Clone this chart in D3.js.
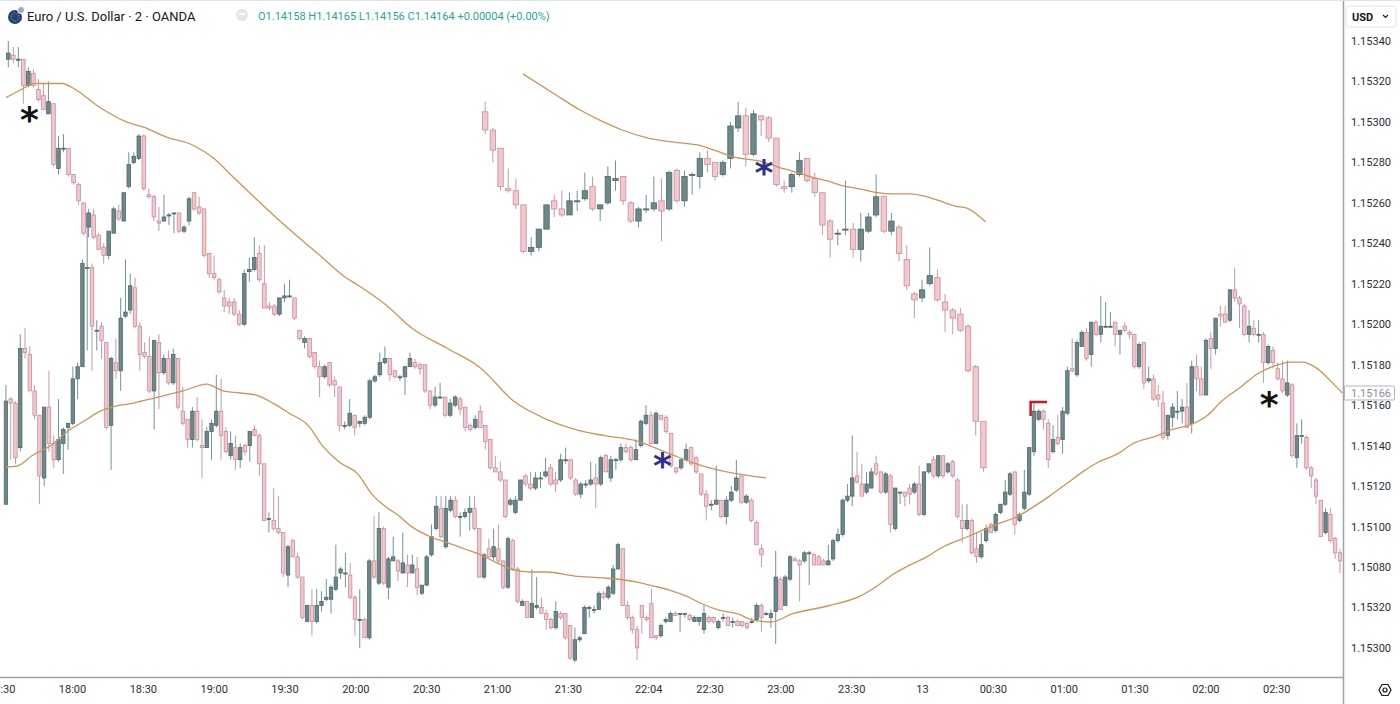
<!DOCTYPE html>
<html>
<head>
<meta charset="utf-8">
<script src="https://cdn.jsdelivr.net/npm/d3@7"></script>
<style>
  body { margin: 0; background: #fff; overflow: hidden; }
  svg { display: block; }
  text { font-family: Roboto, "Liberation Sans", sans-serif; }
</style>
</head>
<body>
<div class="chart"></div>
<script>
// candles are [open, high, low, close] in points above 1.15000
const base = 1.15;

const seriesA = [
  [331,340,327,334],[333,337,329,331],[331,337,327,331],[331,331,309,318],[318,327,317,325],[324,326,317,318],[316,321,310,311],[313,319,306,306],[304,320,304,310],[309,309,278,279],
  [277,293,274,287],[287,294,285,287],[287,287,273,274],[274,274,269,270],[269,270,259,261],[260,260,244,245],[248,257,243,255],[254,257,242,243],[244,245,237,237],[238,240,230,234],
  [234,246,232,246],[245,258,245,257],[256,259,251,252],[251,265,251,265],[268,285,267,279],[280,285,279,283],[282,294,281,293],[293,294,266,267],[264,267,262,263],[263,264,251,253],
  [251,258,246,250],[251,264,251,253],[254,255,249,254],[255,255,245,255],[255,255,245,246],[246,249,245,248],[251,263,249,262],[265,265,256,257],[258,263,254,255],[257,257,233,234],
  [235,235,223,225],[225,234,222,223],[222,223,215,216],[213,217,206,209],[211,213,205,209],[211,213,204,205],[205,207,199,200],[200,227,199,225],[226,233,221,227],[227,243,226,233],
  [235,239,221,222],[220,239,208,208],[209,211,207,208],[209,210,204,205],[205,213,204,213],[213,220,211,214],[214,222,213,214],[213,213,202,203],[197,197,192,193],[191,194,188,193],
  [193,193,183,184],[186,186,178,179],[179,182,164,174],[174,180,173,179],[181,181,169,170],[172,174,164,170],[169,169,147,150],[150,152,148,150],[150,163,149,156],[155,155,145,149],
  [151,152,149,152],[151,155,150,154],[154,173,153,172],[172,175,171,174],[175,186,174,181],[181,189,180,183],[183,183,172,175],[177,177,173,174],[174,175,172,174],[174,179,165,179],
  [179,186,179,183],[181,183,178,179],[180,181,175,178],[180,180,166,167],[167,167,158,160],[160,169,159,164],[164,171,163,164],[164,164,154,155],[155,163,154,161],[160,165,159,164],
  [163,164,155,158],[159,159,147,149],[150,151,147,148],[149,155,148,153],[157,160,149,149],[150,150,138,142],[143,143,128,129],[129,135,127,127],[127,132,122,123],[123,123,104,105],
  [111,114,110,113],[107,115,106,113],[113,123,113,123],[125,126,120,121],[121,127,118,119],[119,127,118,124],[124,127,119,124],[125,134,124,127],[129,131,120,121],[123,127,117,121],
  [123,136,122,133],[133,139,131,133],[133,133,123,124],[123,124,115,116],[116,122,114,121],[121,123,119,121],[121,132,120,123],[124,131,109,121],[121,135,120,134],[135,136,127,127],
  [124,135,122,133],[133,134,128,133],[133,141,132,139],[139,141,136,137],[139,140,132,133],[133,143,133,138],[140,153,139,152],[151,160,150,155],[155,157,141,141],[141,157,141,156],
  [155,155,153,153],[154,155,146,147],[146,146,129,130],[129,129,126,127],[129,133,128,133],[133,141,132,138],[139,139,130,131],[134,135,126,127],[126,126,115,116],[116,118,103,110],
  [111,113,108,111],[111,130,111,113],[113,113,104,105],[105,115,101,113],[113,120,112,117],[118,133,117,124],[125,125,111,112],[112,116,111,115],[113,114,102,103],[102,103,91,91],
  [89,91,80,86]
];

const seriesB = [
  [111,170,111,162],[163,164,133,161],[161,162,131,134],[139,195,137,188],[188,198,183,186],[185,189,167,167],[167,170,153,155],[155,155,111,125],[124,159,120,159],[159,177,137,141],
  [141,145,129,133],[133,163,132,143],[141,149,126,148],[149,151,138,151],[151,179,150,173],[173,181,163,179],[179,232,179,230],[228,255,187,228],[228,230,177,199],[197,202,187,197],
  [199,201,183,192],[191,191,148,149],[150,184,128,183],[181,193,173,177],[177,213,167,203],[204,232,203,206],[207,225,205,219],[218,223,198,199],[199,201,177,185],[186,191,183,184],
  [184,194,166,167],[167,192,148,192],[191,195,158,176],[176,185,175,183],[183,187,170,171],[171,188,170,185],[183,183,158,159],[157,169,150,151],[153,153,139,143],[143,159,139,157],
  [157,164,142,143],[140,153,124,139],[139,149,139,147],[147,153,133,151],[150,175,149,157],[157,173,133,145],[147,149,136,137],[135,147,133,141],[139,145,128,133],[133,141,129,139],
  [140,141,135,137],[140,147,132,147],[148,150,145,145],[145,146,125,131],[131,131,103,103],[104,107,97,104],[103,119,98,99],[99,115,96,97],[97,97,75,77],[76,91,70,90],
  [93,94,85,85],[85,87,74,75],[75,75,54,55],[53,61,53,61],[61,69,46,53],[53,69,52,61],[61,68,58,63],[64,74,63,65],[64,71,57,70],[69,91,68,75],
  [77,80,74,79],[77,87,70,77],[76,82,64,65],[65,66,46,54],[54,69,40,54],[54,55,45,45],[45,84,44,83],[83,105,74,75],[72,107,71,99],[99,100,71,72],
  [70,85,64,84],[83,95,83,85],[83,84,73,78],[77,97,77,82],[81,86,70,77],[77,86,77,81],[79,85,66,70],[67,71,66,71],[71,86,71,85],[86,101,85,95],
  [99,115,98,110],[109,115,94,95],[90,115,89,109],[108,115,107,113],[113,115,104,105],[105,107,95,105],[105,109,104,107],[107,115,98,109],[109,115,98,99],[99,99,75,75],
  [75,87,74,86],[89,94,84,85],[85,99,83,90],[89,101,82,83],[83,83,69,70],[70,95,69,94],[93,94,78,79],[79,80,62,63],[61,64,61,63],[63,63,55,55],
  [55,79,55,62],[60,75,59,61],[60,65,57,57],[57,59,49,54],[54,55,49,50],[50,63,49,58],[57,58,54,55],[57,57,44,45],[51,51,34,35],[34,50,33,44],
  [44,46,43,45],[47,61,47,60],[60,61,55,60],[59,61,57,59],[59,68,59,67],[67,68,64,65],[65,71,64,70],[67,81,66,79],[79,92,79,91],[89,89,61,61],
  [61,63,54,55],[55,56,47,49],[49,51,34,40],[61,61,47,55],[55,56,53,54],[62,69,45,45],[46,46,44,45],[46,52,45,51],[53,55,52,54],[53,58,53,57],
  [57,58,56,56],[57,57,48,57],[57,57,55,57],[56,57,53,54],[53,56,53,55],[53,55,51,55],[49,61,47,57],[55,56,52,53],[55,55,52,53],[50,54,49,53],
  [55,57,53,55],[55,56,51,51],[53,55,50,53],[53,54,51,51],[53,53,50,51],[52,53,49,50],[53,55,52,53],[54,62,53,61],[61,62,48,55],[57,58,56,57],
  [55,59,50,57],[58,88,42,75],[74,75,59,59],[61,76,61,75],[74,86,73,85],[84,85,83,83],[83,84,63,81],[83,88,82,87],[87,88,71,87],[86,87,81,81],
  [85,86,81,81],[83,84,81,81],[81,91,81,83],[84,94,83,93],[93,99,92,96],[96,114,95,113],[113,121,112,115],[115,145,110,124],[125,137,121,122],[121,131,115,115],
  [117,127,116,121],[119,129,119,127],[131,135,125,126],[127,127,116,117],[117,127,116,126],[125,126,97,101],[99,119,98,119],[117,117,111,117],[117,117,110,115],[119,121,111,116],
  [117,122,116,121],[121,130,105,106],[106,127,105,127],[127,131,126,131],[133,135,124,125],[125,135,124,135],[135,135,124,125],[127,132,126,131],[132,133,124,125],[123,124,104,105],
  [103,111,92,99],[99,111,98,103],[103,104,86,87],[89,97,82,85],[85,97,84,91],[93,101,92,99],[101,102,97,97],[98,107,97,106],[107,111,106,111],[111,123,110,117],
  [116,127,115,126],[127,127,96,101],[103,107,102,106],[109,128,108,117],[116,139,115,139],[137,162,135,157],[153,158,152,157],[157,158,148,153],[151,153,129,133],[137,150,136,143],
  [144,155,140,141],[143,159,136,157],[156,179,155,177],[178,193,176,177],[175,192,174,191],[189,197,189,196],[196,198,182,183],[185,201,179,201],[201,202,194,195],[195,214,191,199],
  [199,211,198,199],[199,206,198,199],[201,201,189,195],[195,197,185,197],[199,201,196,197],[196,197,193,195],[195,195,178,179],[179,191,178,190],[191,191,168,171],[172,179,171,173],
  [173,175,162,163],[165,170,159,163],[161,167,143,144],[145,155,143,155],[154,161,149,159],[157,167,153,157],[157,163,151,159],[159,171,149,149],[151,182,146,179],[179,185,167,173],
  [173,179,165,165],[165,193,165,192],[193,196,178,188],[188,203,185,203],[205,209,199,204],[205,209,201,201],[202,217,201,217],[217,228,211,213],[213,214,198,210],[209,210,194,195],
  [195,207,191,199],[198,202,194,195],[195,202,191,195],[195,196,171,181],[181,190,180,189],[187,189,178,181],[178,181,172,173],[173,182,166,167],[165,182,164,171],[170,171,134,135],
  [134,151,129,145],[145,153,141,145],[144,145,128,129],[129,130,119,125],[123,124,111,115],[113,113,95,95],[97,109,96,107],[106,109,92,93],[94,95,84,87],[87,89,77,83]
];

const seriesC = [
  [305,310,294,296],[296,297,280,286],[287,287,266,268],[267,277,265,266],[266,272,257,259],[259,259,235,236],[236,243,234,238],[238,247,236,247],[247,259,247,259],[261,264,253,257],
  [257,266,253,254],[254,265,254,261],[261,266,256,261],[262,275,261,266],[268,273,256,257],[257,259,251,259],[260,278,259,273],[271,281,266,272],[273,273,259,261],[260,261,250,251],
  [251,258,248,257],[257,264,255,257],[257,273,256,260],[261,272,241,256],[257,276,256,275],[276,277,260,261],[261,276,258,273],[274,275,264,274],[273,285,267,282],[282,286,275,279],
  [280,280,271,273],[274,281,273,280],[282,300,277,298],[297,310,295,303],[303,307,278,284],[284,306,283,304],[303,303,293,301],[302,303,290,292],[292,292,268,269],[268,271,265,267],
  [268,275,265,274],[274,285,273,281],[282,282,270,271],[272,275,263,265],[265,265,244,249],[251,252,233,242],[245,247,239,245],[247,271,244,247],[247,250,233,237],[237,255,231,247],
  [246,255,245,253],[254,274,253,263],[263,264,245,246],[246,255,244,251],[248,249,231,235],[232,239,217,219],[215,216,203,212],[213,222,211,217],[220,238,219,224],[223,227,211,212],
  [211,215,196,207],[207,208,195,203],[205,208,196,197],[199,200,176,177],[179,180,145,152],[152,152,127,129]
];

// time of first and last candle of each series
const spanA = ['17:33', '22:52'];
const spanB = ['17:32', '02:57'];
const spanC = ['20:55', '00:26'];

// moving average lines: [time, points above 1.15000]
const maA = [['17:32',312],['17:40',317],['17:43',319],['17:56',319],['18:00',317],['18:12',307],['18:23',300],['18:30',297.5],['18:40',292.5],['18:51',288.6],
  ['19:00',282],['19:08',273],['19:17',263],['19:29',250],['19:44',235],['19:56',223],['20:01',219.4],['20:13',209.5],['20:24',198],['20:39',188],
  ['20:53',178.4],['21:07',162],['21:21',153],['21:33',148],['21:45',145],['21:59',142.3],['22:13',136],['22:27',130],['22:42',126],['22:54',124]];
const maB = [['17:32',129.4],['17:37',130],['17:43',135],['17:51',140],['17:58',147],['18:05',152],['18:12',157],['18:19',159.6],['18:26',161],['18:33',163],
  ['18:40',165],['18:47',167],['18:57',170.4],['19:04',167],['19:11',166],['19:18',165],['19:25',161],['19:32',156],['19:40',150],['19:46',140],
  ['19:53',132],['20:01',126],['20:07',116],['20:13',109.6],['20:18',105.7],['20:24',99.8],['20:32',94.8],['20:39',92],['20:46',89],['20:53',86],
  ['21:00',82],['21:07',78.5],['21:14',77.5],['21:21',77.5],['21:33',75.5],['21:45',74.6],['21:59',72.6],['22:06',70.6],['22:13',68.6],['22:20',65.7],
  ['22:27',61.7],['22:34',58.7],['22:42',56.8],['22:48',53.8],['22:56',52.8],['23:05',56.8],['23:20',60.7],['23:34',65.7],['23:41',70.6],['23:48',76.5],
  ['23:55',81],['00:02',85],['00:09',90],['00:19',94.8],['00:26',98.3],['00:33',101.7],['00:40',104.7],['00:47',109.6],['00:54',115],['01:01',121],
  ['01:08',127],['01:15',132],['01:23',136],['01:29',140.8],['01:40',145],['01:46',148],['01:53',150],['02:01',155],['02:07',162],['02:15',169],
  ['02:22',175.4],['02:29',179.3],['02:36',181.3],['02:41',181.3],['02:47',178.4],['02:53',172],['02:58',166]];
const maC = [['21:11',323.7],['21:25',313.3],['21:35',306],['21:45',300],['21:53',296],['22:04',292],['22:15',290],['22:25',288.6],['22:32',286],['22:40',282.7],
  ['22:51',280.7],['22:59',277.7],['23:05',275.7],['23:13',272.8],['23:20',270.8],['23:27',268.3],['23:34',266.8],['23:41',265],['23:48',264.4],['23:55',264.4],
  ['00:02',263],['00:09',260.4],['00:14',258.4],['00:19',257.4],['00:27',250.5]];

const timeTicks = ['17:30','18:00','18:30','19:00','19:30','20:00','20:30','21:00','21:30','22:04','22:30','23:00','23:30','00:00','00:30','01:00','01:30','02:00','02:30'];
const timeLabels = ['17:30','18:00','18:30','19:00','19:30','20:00','20:30','21:00','21:30','22:04','22:30','23:00','23:30','13','00:30','01:00','01:30','02:00','02:30'];
const priceTicks = [1.1534,1.1532,1.1530,1.1528,1.1526,1.1524,1.1522,1.1520,1.1518,1.1516,1.1514,1.1512,1.1510,1.1508,1.1506,1.1504];
const priceLabels = ['1.15340','1.15320','1.15300','1.15280','1.15260','1.15240','1.15220','1.15200','1.15180','1.15160','1.15140','1.15120','1.15100','1.15080','1.15320','1.15300'];

// asterisk marks and the red bracket
const marks = [
  {t: '17:42', v: 306, color: '#111'},
  {t: '02:27', v: 165, color: '#111'},
  {t: '22:10', v: 135, color: '#2e3192'},
  {t: '22:53', v: 280, color: '#2e3192'}
];
const bracket = {t0: '00:46', t1: '00:53', top: 161.6, bottom: 154.6};
const lastPrice = 166;

const title = 'Euro / U.S. Dollar \u00b7 2 \u00b7 OANDA';
const ohlc = 'O1.14158 H1.14165 L1.14156 C1.14164 +0.00004 (+0.00%)';

const width = 1400, height = 704;
const plotRight = 1343, axisY = 677;

const toPrice = v => base + v / 1e5;
function tp(s) {
  const [h, m] = s.split(':').map(Number);
  return new Date(2021, 6, h < 12 ? 13 : 12, h, m);
}

const x = d3.scaleTime().domain([tp('17:30'), tp('03:00')]).range([1.2, 1347]);
const y = d3.scaleLinear().domain([1.1534, 1.1503]).range([41, 668.1]);

const svg = d3.select('.chart').append('svg')
  .attr('width', width)
  .attr('height', height);

svg.append('defs').append('clipPath').attr('id', 'plotclip')
  .append('rect').attr('x', 0).attr('y', 0).attr('width', plotRight).attr('height', axisY);

const plot = svg.append('g').attr('clip-path', 'url(#plotclip)');

const upFill = '#6b898a', upStroke = '#506869', upWick = '#6f9596';
const downFill = '#f4c6cd', downStroke = '#c98e98', downWick = '#c29ba2';

function drawCandles(data, span, bodyW) {
  const xi = d3.scaleLinear()
    .domain([0, data.length - 1])
    .range([x(tp(span[0])), x(tp(span[1]))]);
  const g = plot.append('g');
  g.selectAll('line').data(data).join('line')
    .attr('x1', (d, i) => xi(i))
    .attr('x2', (d, i) => xi(i))
    .attr('y1', d => y(toPrice(d[1])))
    .attr('y2', d => y(toPrice(d[2])))
    .attr('stroke', d => d[3] >= d[0] ? upWick : downWick)
    .attr('stroke-width', 1);
  g.selectAll('rect').data(data).join('rect')
    .attr('x', (d, i) => xi(i) - bodyW / 2)
    .attr('width', bodyW)
    .attr('y', d => y(toPrice(Math.max(d[0], d[3]))))
    .attr('height', d => Math.max(1, Math.abs(y(toPrice(d[0])) - y(toPrice(d[3])))))
    .attr('fill', d => d[3] >= d[0] ? upFill : downFill)
    .attr('stroke', d => d[3] >= d[0] ? upStroke : downStroke)
    .attr('stroke-width', 0.8);
}

drawCandles(seriesB, spanB, 3.4);
drawCandles(seriesA, spanA, 3.6);
drawCandles(seriesC, spanC, 5.4);

const maLine = d3.line()
  .x(d => x(tp(d[0])))
  .y(d => y(toPrice(d[1])))
  .curve(d3.curveMonotoneX);

[maA, maB, maC].forEach(ma => {
  plot.append('path')
    .datum(ma)
    .attr('d', maLine)
    .attr('fill', 'none')
    .attr('stroke', '#c99558')
    .attr('stroke-width', 1.3);
});

// annotations
plot.selectAll('.mark').data(marks).join('text')
  .attr('class', 'mark')
  .attr('x', d => x(tp(d.t)))
  .attr('y', d => y(toPrice(d.v)))
  .attr('dy', '0.62em')
  .attr('text-anchor', 'middle')
  .style('font-family', '"DejaVu Sans", sans-serif')
  .style('font-weight', 'bold')
  .style('font-size', '36px')
  .attr('fill', d => d.color)
  .text('*');

plot.append('path')
  .attr('d', `M${x(tp(bracket.t0))},${y(toPrice(bracket.bottom))}V${y(toPrice(bracket.top))}H${x(tp(bracket.t1))}`)
  .attr('fill', 'none')
  .attr('stroke', '#d0161c')
  .attr('stroke-width', 2.5);

// frame lines
svg.append('line').attr('x1', 0).attr('x2', plotRight).attr('y1', axisY + 0.5).attr('y2', axisY + 0.5)
  .attr('stroke', '#9ea1a8').attr('stroke-width', 1.5);
svg.append('line').attr('x1', plotRight + 0.5).attr('x2', plotRight + 0.5).attr('y1', 0).attr('y2', height)
  .attr('stroke', '#9ea1a8').attr('stroke-width', 1.5);
svg.append('line').attr('x1', 0).attr('x2', width).attr('y1', 0.5).attr('y2', 0.5)
  .attr('stroke', '#e0e3eb');

// price axis
const yAxis = d3.axisRight(y)
  .tickValues(priceTicks)
  .tickFormat((d, i) => priceLabels[i])
  .tickSize(0)
  .tickPadding(8);
const gy = svg.append('g').attr('transform', `translate(${plotRight},0)`).call(yAxis);
gy.select('.domain').remove();
gy.selectAll('text').style('font-size', '11px').attr('fill', '#2a2e39');

// time axis
const xAxis = d3.axisBottom(x)
  .tickValues(timeTicks.map(tp))
  .tickFormat((d, i) => timeLabels[i])
  .tickSize(0)
  .tickPadding(8);
const gx = svg.append('g').attr('transform', `translate(0,${axisY})`).call(xAxis);
gx.select('.domain').remove();
gx.selectAll('text').style('font-size', '11px').attr('fill', '#2a2e39');

// last price tag
const tagY = y(toPrice(lastPrice));
svg.append('rect').attr('x', plotRight + 1.5).attr('y', tagY - 7).attr('width', 50).attr('height', 14)
  .attr('fill', '#fff').attr('fill-opacity', 0.85).attr('stroke', '#b2b5be').attr('rx', 1);
svg.append('text').attr('x', plotRight + 8).attr('y', tagY).attr('dy', '0.35em')
  .style('font-size', '11px').attr('fill', '#8a8d96').text(toPrice(lastPrice).toFixed(5));

// currency box
svg.append('rect').attr('x', 1346).attr('y', 6).attr('width', 50).attr('height', 21).attr('rx', 3)
  .attr('fill', '#fff').attr('stroke', '#e0e3eb');
svg.append('text').attr('x', 1352).attr('y', 21).style('font-size', '11px').style('font-weight', 'bold')
  .attr('fill', '#131722').text('USD');
svg.append('path').attr('d', 'M1383,15 l2.5,2.5 l2.5,-2.5').attr('fill', 'none').attr('stroke', '#131722').attr('stroke-width', 1.1);

// settings icon bottom right
svg.append('path').attr('d', 'M1379,690 l3,-5.5 h6 l3,5.5 l-3,5.5 h-6 z').attr('fill', 'none').attr('stroke', '#131722').attr('stroke-width', 1.2);
svg.append('circle').attr('cx', 1385).attr('cy', 690).attr('r', 2).attr('fill', 'none').attr('stroke', '#131722').attr('stroke-width', 1.2);

// header
const head = svg.append('g');
head.append('circle').attr('cx', 15).attr('cy', 17).attr('r', 7).attr('fill', '#22437a');
head.append('circle').attr('cx', 15).attr('cy', 17).attr('r', 4).attr('fill', 'none').attr('stroke', '#e8c547').attr('stroke-width', 0.8).attr('stroke-dasharray', '1,1.5');
head.append('circle').attr('cx', 21).attr('cy', 10).attr('r', 3.5).attr('fill', '#9aa8bb').attr('stroke', '#fff').attr('stroke-width', 1);
head.append('text').attr('x', 27).attr('y', 21).style('font-size', '13px').attr('fill', '#131722').text(title);
head.append('circle').attr('cx', 242).attr('cy', 15).attr('r', 6).attr('fill', '#e3e5ea');
head.append('line').attr('x1', 239).attr('x2', 245).attr('y1', 14).attr('y2', 14).attr('stroke', '#fff').attr('stroke-width', 2);
head.append('text').attr('x', 258).attr('y', 20).style('font-size', '11px').attr('fill', '#26a69a').text(ohlc);
</script>
</body>
</html>
